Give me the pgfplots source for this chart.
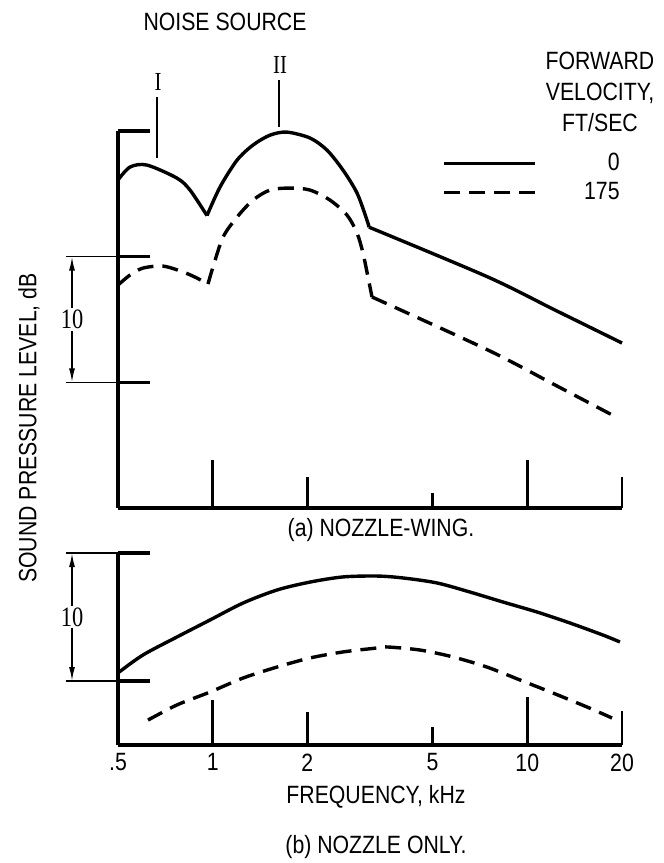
\documentclass[border=0pt]{standalone}
\usepackage{pgfplots}
\pgfplotsset{compat=1.18}
\usepackage{fontspec}
\setmainfont{Liberation Sans}[FakeStretch=0.85]
\newfontfamily\romanfont{Liberation Serif}[FakeStretch=0.8]
\usetikzlibrary{arrows.meta,calc}

\tikzset{
  solidCurve/.style={black, line width=1.7pt, smooth},
  dashCurve/.style={black, line width=1.7pt, smooth, dash pattern=on 8pt off 4.5pt},
  tickMark/.style={black, line width=1.3pt},
  scaleArrow/.style={line width=0.8pt, {Latex[length=7pt,width=3pt]}-{Latex[length=7pt,width=3pt]}},
}
\pgfplotsset{
  legend image code/.code={\draw[#1] (0pt,0pt) -- (45.5pt,0pt); \path[draw=none, fill=none] (0pt,0pt) -- (69pt,0pt);},
}

\begin{document}
\fontsize{12.5}{15.5}\selectfont
\begin{tikzpicture}
\path[use as bounding box] (0pt,0pt) rectangle (332pt,-431.5pt);

% (a) nozzle-wing
\begin{axis}[scale only axis, xmode=log, xmin=0.5, xmax=20, ymin=0, ymax=30,
    width=252pt, height=188.5pt, at={(59pt,-254pt)}, anchor=south west,
    axis x line*=bottom, axis y line*=left,
    axis line style={-, line width=1.7pt},
    tick align=inside, major tick length=16pt,
    ytick style={line width=1.6pt, black},
    xtick=\empty, xminorticks=false, ytick={10,20,30}, yticklabels={}, clip=false,
    legend cell align=right,
    legend style={draw=none, fill=none, at={(1,0.959)}, anchor=north east, xshift=3pt,
        row sep=2pt, nodes={inner sep=1pt}}]
\addplot[solidCurve, no marks, forget plot] coordinates {(0.5,26.1) (0.546,27.13) (0.618,27.29) (0.77,26.25) (0.847,25.3) (0.959,23.27)};
\addplot[solidCurve, no marks, forget plot] coordinates {(0.959,23.27) (1.055,25.54) (1.195,27.68) (1.343,28.88) (1.521,29.67) (1.722,29.91) (2.039,29.44) (2.308,28.48) (2.595,26.89) (2.876,25.06) (3.093,22.91) (3.139,22.35)};
\addplot[solidCurve, no marks] coordinates {(3.139,22.35) (7.5,18.38) (12.25,15.75) (20,13.13)};
\addlegendentry{0}
\addplot[dashCurve, no marks, forget plot] coordinates {(0.5,17.74) (0.546,18.54) (0.6,19.09) (0.695,19.25) (0.805,18.78) (0.891,18.3) (0.966,17.82)};
\addplot[dashCurve, no marks, forget plot] coordinates {(0.966,17.82) (1.002,19.17) (1.079,21.56) (1.195,23.15) (1.343,24.5) (1.521,25.3) (1.761,25.46) (2.039,25.3) (2.36,24.5) (2.672,23.31) (2.876,21.88) (3.004,20.29) (3.116,18.38) (3.209,16.79)};
\addplot[dashCurve, no marks] coordinates {(3.209,16.79) (7.5,12.57) (12.25,9.79) (19.42,7.16)};
\addlegendentry{175}
% tick marks
\draw[tickMark] (axis cs:1,0) -- ++(0pt,24pt);
\draw[tickMark] (axis cs:2,0) -- ++(0pt,15.5pt);
\draw[tickMark] (axis cs:5,0) -- ++(0pt,7.5pt);
\draw[tickMark] (axis cs:10,0) -- ++(0pt,24pt);
\draw[tickMark] (axis cs:20,0) -- ++(0pt,15.5pt);
% 10 dB scale
\draw[line width=0.6pt] (axis cs:0.5,20) -- ++(-26pt,0pt);
\draw[line width=0.6pt] (axis cs:0.5,10) -- ++(-26pt,0pt);
\draw[scaleArrow] ($(axis cs:0.5,20)+(-23pt,0pt)$) -- node[fill=white, inner sep=1pt, font=\romanfont\fontsize{14}{14}\selectfont]{10} ($(axis cs:0.5,10)+(-23pt,0pt)$);
\end{axis}

% (b) nozzle only
\begin{axis}[scale only axis, xmode=log, xmin=0.5, xmax=20, ymin=0, ymax=15,
    width=252pt, height=96pt, at={(59pt,-372.5pt)}, anchor=south west,
    axis x line*=bottom, axis y line*=left,
    axis line style={-, line width=1.7pt},
    tick align=inside, major tick length=16pt,
    ytick style={line width=1.6pt, black}, xtick style={draw=none},
    xminorticks=false, ytick={5,15}, yticklabels={}, clip=false,
    xtick={0.5,1,2,5,10,20}, xticklabels={.5,1,2,5,10,20}]
\addplot[solidCurve, no marks] coordinates {(0.5,5.63) (0.6,7.03) (0.77,8.44) (0.981,9.77) (1.248,11.09) (1.601,12.11) (2.039,12.73) (2.595,13.13) (3.329,13.2) (4.027,13.05) (5.164,12.66) (6.574,11.95) (8.372,11.17) (10.74,10.39) (13.67,9.53) (17.4,8.59) (19.7,8.05)};
\addplot[dashCurve, no marks] coordinates {(0.623,1.95) (0.77,3.13) (0.981,4.14) (1.248,5.23) (1.601,6.09) (2.039,6.8) (2.595,7.27) (3.329,7.58) (3.581,7.66) (4.56,7.42) (5.805,6.88) (7.444,6.09) (9.48,5.08) (12.07,4.06) (15.48,2.97) (18.59,2.11)};
\draw[tickMark] (axis cs:1,0) -- ++(0pt,22.5pt);
\draw[tickMark] (axis cs:2,0) -- ++(0pt,16.5pt);
\draw[tickMark] (axis cs:5,0) -- ++(0pt,9pt);
\draw[tickMark] (axis cs:10,0) -- ++(0pt,24pt);
\draw[tickMark] (axis cs:20,0) -- ++(0pt,17pt);
\draw[line width=0.6pt] (axis cs:0.5,15) -- ++(-26pt,0pt);
\draw[line width=0.6pt] (axis cs:0.5,5) -- ++(-26pt,0pt);
\draw[scaleArrow] ($(axis cs:0.5,15)+(-23pt,0pt)$) -- node[fill=white, inner sep=1pt, font=\romanfont\fontsize{14}{14}\selectfont]{10} ($(axis cs:0.5,5)+(-23pt,0pt)$);
\end{axis}

% texts (positions in pt, y downwards negative)
\node at (112.5pt,-11pt) {NOISE SOURCE};
\node[font=\romanfont\fontsize{13}{13}\selectfont] at (79pt,-41pt) {I};
\draw[line width=0.7pt] (78.5pt,-48.5pt) -- (78.5pt,-79pt);
\node[font=\romanfont\fontsize{13}{13}\selectfont] at (140pt,-32.5pt) {II};
\draw[line width=0.7pt] (139.5pt,-40pt) -- (139.5pt,-63.5pt);
\node[align=center] at (300pt,-46pt) {FORWARD\\VELOCITY,\\FT/SEC};
\node at (190.5pt,-265pt) {(a) NOZZLE-WING.};
\node at (188pt,-398.5pt) {FREQUENCY, kHz};
\node at (188pt,-423.5pt) {(b) NOZZLE ONLY.};
\node[rotate=90] at (14.5pt,-214pt) {SOUND PRESSURE LEVEL, dB};
\end{tikzpicture}
\end{document}
